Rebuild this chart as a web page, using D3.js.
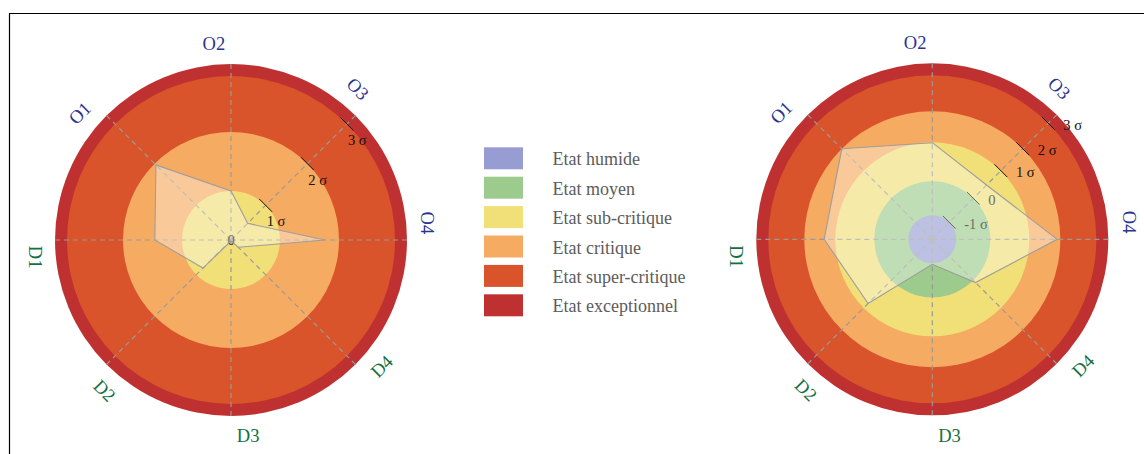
<!DOCTYPE html>
<html>
<head>
<meta charset="utf-8">
<script src="https://cdn.jsdelivr.net/npm/d3@7"></script>
<style>
  html, body { margin: 0; padding: 0; background: #fff; }
  svg { display: block; }
  text { font-family: "Liberation Serif", "DejaVu Serif", serif; }
</style>
</head>
<body>
<svg id="chart" width="1144" height="454"></svg>
<script>
// ---------- DATA ----------
const axisNames = ["O2", "O3", "O4", "D4", "D3", "D2", "D1", "O1"]; // clockwise from top
const valuesLeft  = [1.0, 0.48, 1.76, 0.21, 0.02, 0.81, 1.46, 1.97];
const valuesRight = [0.99, 0.48, 1.9, 0.08, -0.97, 0.84, 1.36, 2.0];

const stateNames  = ["Etat humide", "Etat moyen", "Etat sub-critique", "Etat critique", "Etat super-critique", "Etat exceptionnel"];
const stateColors = ["#979dd2", "#9ccb8d", "#f1df78", "#f6ab62", "#d9532b", "#bf3131"];

// upper bound (in sigma) of each state for each chart; null = state not shown
const leftStateTops  = [null, null, 1, 2, 3, 3.2];
const rightStateTops = [-1, 0, 1, 2, 3, 3.35];

const leftTickValues  = [0, 1, 2, 3];
const leftTickLabels  = ["0", "1 σ", "2 σ", "3 σ"];
const rightTickValues = [-1, 0, 1, 2, 3];
const rightTickLabels = ["-1 σ", "0", "1 σ", "2 σ", "3 σ"];

// ---------- DRAW ----------
const svg = d3.select("#chart");

// frame
svg.append("path")
  .attr("d", "M9.5,460V13.5H1150")
  .attr("fill", "none").attr("stroke", "#000").attr("stroke-width", 1.2);

const angleScale = d3.scaleLinear().domain([0, axisNames.length]).range([0, 2 * Math.PI]);
const labelColor = name => name[0] === "O" ? "#2b3590" : "#13703f";

function drawRadar(cfg) {
  const g = svg.append("g").attr("transform", `translate(${cfg.cx},${cfg.cy})`);
  const r = d3.scaleLinear().domain(cfg.domain).range(cfg.range).clamp(true);
  const maxR = d3.max(cfg.range);

  // zone discs, outermost first
  const zones = cfg.tops.map((t, i) => ({ t, color: stateColors[i] })).filter(d => d.t !== null);
  g.selectAll("circle.zone").data(zones.slice().reverse()).join("circle")
    .attr("class", "zone")
    .attr("r", d => r(d.t))
    .attr("fill", d => d.color);

  // dashed axes
  g.selectAll("line.axis").data(axisNames).join("line")
    .attr("class", "axis")
    .attr("x1", 0).attr("y1", 0)
    .attr("x2", (d, i) => maxR * Math.sin(angleScale(i)))
    .attr("y2", (d, i) => -maxR * Math.cos(angleScale(i)))
    .attr("stroke", "#9a9a9a").attr("stroke-width", 1.2)
    .attr("stroke-dasharray", "5,4");

  // ticks on O3 axis (45deg)
  const a = angleScale(1);
  const ticks = cfg.tickValues.map((v, i) => ({ v, label: cfg.tickLabels[i] }));
  const tg = g.selectAll("g.tick").data(ticks).join("g").attr("class", "tick")
    .attr("transform", d => `translate(${r(d.v) * Math.sin(a)},${-r(d.v) * Math.cos(a)})`);
  tg.filter(d => r(d.v) > 0).append("line")
    .attr("x1", -6.4).attr("y1", -6.4).attr("x2", 6.4).attr("y2", 6.4)
    .attr("stroke", "#111").attr("stroke-width", 1);
  tg.append("text")
    .attr("x", d => r(d.v) > 0 ? cfg.tickDx : 0)
    .attr("y", d => r(d.v) > 0 ? cfg.tickDy : 5)
    .attr("text-anchor", d => r(d.v) > 0 ? "start" : "middle")
    .attr("font-size", 14.5)
    .attr("fill", "#111")
    .text(d => d.label);

  // polygon
  const line = d3.lineRadial()
    .angle((d, i) => angleScale(i))
    .radius(d => r(d))
    .curve(d3.curveLinearClosed);
  g.append("path")
    .attr("d", line(cfg.values))
    .attr("fill", "#fff").attr("fill-opacity", 0.36)
    .attr("stroke", "#9e9e9e").attr("stroke-width", 1.1);

  // axis labels
  const off = 5 * Math.PI / 180;
  const LR = 197;
  g.selectAll("text.axlabel").data(axisNames).join("text")
    .attr("class", "axlabel")
    .attr("transform", (d, i) => {
      const ang = angleScale(i);
      const p = ang - off;
      let deg = ang * 180 / Math.PI;
      if (deg > 90 && deg <= 270) deg -= 180;
      else if (deg > 270) deg -= 360;
      return `translate(${LR * Math.sin(p)},${-LR * Math.cos(p)}) rotate(${deg})`;
    })
    .attr("text-anchor", "middle")
    .attr("dominant-baseline", "central")
    .attr("font-size", 18.5)
    .attr("fill", d => labelColor(d))
    .text(d => d);
}

drawRadar({
  cx: 231, cy: 240,
  domain: [0, 1, 2, 3, 3.2], range: [0, 49, 108, 164, 176],
  tops: leftStateTops, values: valuesLeft,
  tickValues: leftTickValues, tickLabels: leftTickLabels,
  tickDx: 1, tickDy: 21
});

drawRadar({
  cx: 932.3, cy: 239.3,
  domain: [-2, -1, 0, 1, 2, 3, 3.35], range: [0, 24, 58, 97, 128, 164, 176],
  tops: rightStateTops, values: valuesRight,
  tickValues: rightTickValues, tickLabels: rightTickLabels,
  tickDx: 15, tickDy: 6.5
});

// legend
const leg = svg.append("g").attr("transform", "translate(484,147.3)");
const rows = leg.selectAll("g").data(stateNames).join("g")
  .attr("transform", (d, i) => `translate(0,${i * 29.4})`);
rows.append("rect").attr("width", 39).attr("height", 22)
  .attr("fill", (d, i) => stateColors[i]);
rows.append("text").attr("x", 68.5).attr("y", 18)
  .attr("font-size", 18).attr("fill", "#5c5c5c")
  .text(d => d);
</script>
</body>
</html>
